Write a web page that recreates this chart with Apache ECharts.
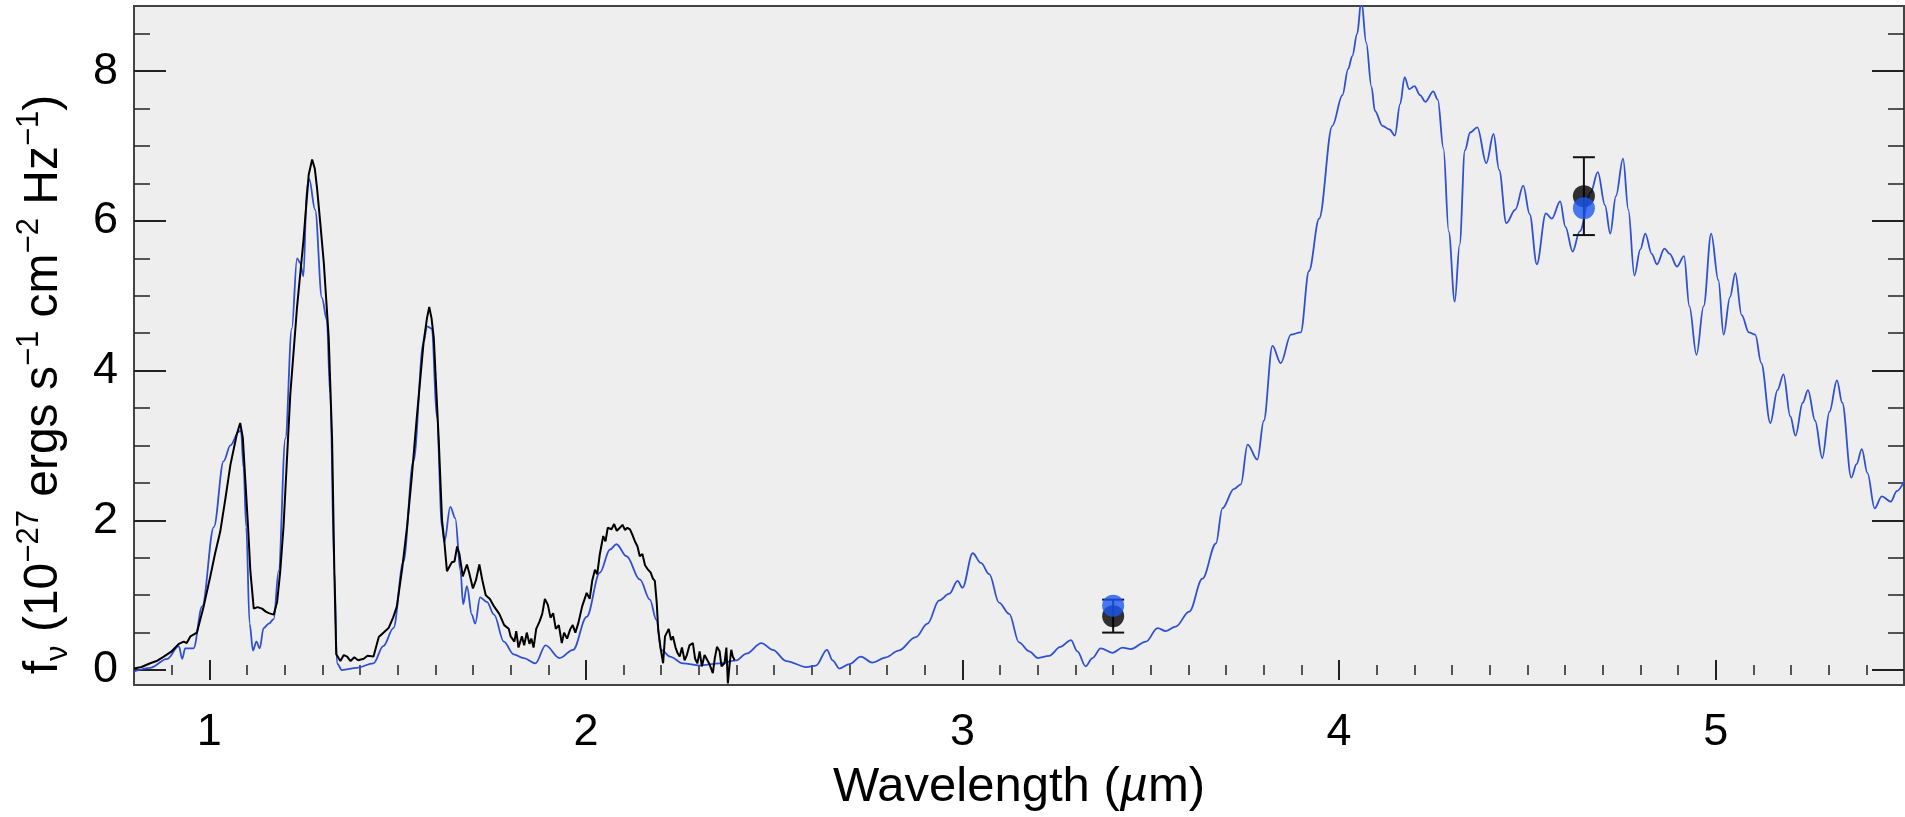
<!DOCTYPE html>
<html>
<head>
<meta charset="utf-8">
<script src="https://cdn.jsdelivr.net/npm/echarts@6/dist/echarts.min.js"></script>
<style>
html, body { margin: 0; padding: 0; background: #fff; }
#chart { width: 1905px; height: 817px; }
</style>
</head>
<body>
<div id="chart"></div>
<script>
// model spectrum (blue), [wavelength um, flux]
const modelSpec = [
  [0.80,-0.02],[0.843,0.03],[0.888,0.15],[0.919,0.32],[0.928,0.15],[0.936,0.29],[0.958,0.29],[0.981,0.85],
  [1.012,1.91],[1.038,2.79],[1.056,3.0],[1.078,3.18],[1.084,3.2],[1.091,2.7],[1.098,1.91],[1.107,0.62],
  [1.116,0.26],[1.125,0.38],[1.134,0.29],[1.144,0.56],[1.158,0.62],[1.171,0.68],[1.184,1.32],[1.202,3.09],
  [1.219,4.56],[1.233,5.5],[1.241,5.44],[1.25,5.26],[1.259,6.44],[1.265,6.56],[1.281,6.15],[1.299,4.97],
  [1.312,4.68],[1.321,3.68],[1.332,1.32],[1.339,0.09],[1.352,0.0],[1.392,0.03],[1.436,0.09],[1.462,0.32],
  [1.489,0.56],[1.515,1.44],[1.542,2.79],[1.569,4.38],[1.578,4.59],[1.591,4.56],[1.604,3.38],[1.618,1.91],
  [1.624,1.71],[1.64,2.18],[1.653,2.03],[1.667,1.32],[1.674,0.88],[1.684,1.12],[1.697,0.74],[1.706,0.62],
  [1.719,0.97],[1.737,0.91],[1.756,0.74],[1.782,0.38],[1.808,0.21],[1.835,0.16],[1.866,0.09],[1.893,0.33],
  [1.93,0.16],[1.966,0.27],[2.002,0.71],[2.037,1.3],[2.064,1.61],[2.081,1.68],[2.108,1.52],[2.143,1.21],
  [2.17,0.94],[2.187,0.67],[2.2,0.27],[2.223,0.18],[2.258,0.09],[2.302,0.06],[2.355,0.09],[2.40,0.13],
  [2.426,0.22],[2.466,0.36],[2.496,0.27],[2.532,0.12],[2.585,0.04],[2.611,0.06],[2.64,0.27],[2.655,0.13],
  [2.673,0.02],[2.70,0.08],[2.73,0.18],[2.76,0.1],[2.797,0.17],[2.83,0.26],[2.876,0.44],[2.907,0.62],
  [2.938,0.93],[2.965,1.02],[2.987,1.19],[3.0,1.10],[3.027,1.56],[3.049,1.43],[3.071,1.28],[3.097,0.9],
  [3.124,0.75],[3.15,0.37],[3.177,0.25],[3.2,0.16],[3.23,0.19],[3.26,0.31],[3.288,0.4],[3.305,0.25],
  [3.327,0.05],[3.345,0.16],[3.367,0.29],[3.398,0.23],[3.425,0.3],[3.447,0.28],[3.487,0.38],[3.518,0.56],
  [3.54,0.52],[3.566,0.58],[3.602,0.78],[3.637,1.22],[3.673,1.69],[3.69,2.16],[3.721,2.42],[3.739,2.48],
  [3.757,3.01],[3.783,2.81],[3.80,3.33],[3.823,4.33],[3.845,4.1],[3.872,4.48],[3.898,4.51],[3.92,5.33],
  [3.947,6.03],[3.982,7.27],[4.009,7.68],[4.024,8.03],[4.035,8.2],[4.048,8.5],[4.059,8.95],[4.072,8.38],
  [4.086,7.79],[4.095,7.47],[4.115,7.27],[4.134,7.22],[4.148,7.14],[4.162,7.56],[4.174,7.92],[4.186,7.76],
  [4.2,7.8],[4.215,7.68],[4.229,7.59],[4.25,7.73],[4.262,7.62],[4.277,6.97],[4.291,5.86],[4.307,4.92],
  [4.32,5.68],[4.334,6.94],[4.348,7.18],[4.367,7.25],[4.391,6.77],[4.41,7.16],[4.425,6.68],[4.444,5.97],
  [4.468,6.15],[4.489,6.47],[4.506,6.09],[4.525,5.42],[4.549,6.1],[4.565,6.03],[4.587,6.26],[4.601,5.92],
  [4.62,5.59],[4.639,5.86],[4.668,6.38],[4.687,6.65],[4.706,6.21],[4.72,5.83],[4.735,6.33],[4.754,6.83],
  [4.768,6.15],[4.784,5.27],[4.80,5.62],[4.813,5.83],[4.83,5.56],[4.844,5.42],[4.864,5.63],[4.878,5.56],
  [4.897,5.39],[4.916,5.53],[4.93,4.86],[4.949,4.21],[4.968,4.86],[4.988,5.83],[5.007,5.21],[5.021,4.48],
  [5.038,4.98],[5.052,5.3],[5.069,4.74],[5.088,4.51],[5.105,4.48],[5.121,4.1],[5.145,3.3],[5.164,3.74],
  [5.18,3.95],[5.198,3.39],[5.212,3.13],[5.231,3.57],[5.245,3.74],[5.264,3.33],[5.283,2.83],[5.302,3.45],
  [5.322,3.87],[5.336,3.57],[5.36,2.57],[5.374,2.75],[5.388,2.95],[5.403,2.63],[5.422,2.16],[5.441,2.32],
  [5.465,2.25],[5.481,2.39],[5.50,2.52]
]

// observed spectrum (black)
const obsSpec = [
  [0.80,0.02],[0.82,0.04],[0.843,0.09],[0.86,0.12],[0.879,0.18],[0.90,0.25],[0.919,0.35],[0.932,0.38],
  [0.94,0.36],[0.95,0.45],[0.967,0.5],[0.985,0.85],[1.003,1.26],[1.015,1.55],[1.029,1.85],[1.043,2.3],
  [1.056,2.74],[1.073,3.15],[1.082,3.3],[1.089,3.1],[1.096,2.5],[1.103,1.9],[1.109,1.32],[1.118,0.82],
  [1.128,0.84],[1.14,0.82],[1.15,0.78],[1.158,0.76],[1.171,0.74],[1.18,0.91],[1.188,1.3],[1.197,1.91],
  [1.206,2.8],[1.215,3.68],[1.233,4.85],[1.25,5.74],[1.264,6.62],[1.273,6.82],[1.28,6.7],[1.286,6.44],
  [1.295,5.95],[1.304,5.44],[1.317,4.44],[1.326,3.09],[1.332,1.32],[1.337,0.21],[1.348,0.12],[1.357,0.2],
  [1.366,0.18],[1.375,0.12],[1.385,0.17],[1.395,0.13],[1.41,0.15],[1.42,0.19],[1.436,0.18],[1.45,0.44],
  [1.463,0.5],[1.476,0.56],[1.488,0.7],[1.498,0.85],[1.512,1.35],[1.525,1.91],[1.538,2.6],[1.551,3.38],
  [1.569,4.38],[1.578,4.7],[1.584,4.85],[1.59,4.7],[1.596,4.44],[1.609,3.09],[1.618,2.0],[1.624,1.72],
  [1.631,1.32],[1.644,1.44],[1.651,1.45],[1.658,1.65],[1.664,1.55],[1.673,1.25],[1.684,1.41],[1.69,1.3],
  [1.70,1.09],[1.708,1.2],[1.717,1.41],[1.725,1.2],[1.734,1.0],[1.745,0.95],[1.756,0.85],[1.77,0.75],
  [1.783,0.6],[1.795,0.55],[1.80,0.45],[1.81,0.38],[1.815,0.52],[1.821,0.3],[1.83,0.45],[1.836,0.33],
  [1.843,0.5],[1.85,0.35],[1.855,0.42],[1.861,0.3],[1.868,0.55],[1.877,0.65],[1.884,0.75],[1.891,0.95],
  [1.899,0.87],[1.906,0.7],[1.913,0.76],[1.92,0.55],[1.928,0.6],[1.936,0.36],[1.942,0.5],[1.95,0.42],
  [1.958,0.54],[1.965,0.6],[1.972,0.5],[1.98,0.63],[1.99,0.85],[2.002,1.03],[2.01,0.95],[2.017,1.2],
  [2.024,1.34],[2.03,1.28],[2.037,1.55],[2.046,1.79],[2.052,1.72],[2.058,1.9],[2.068,1.88],[2.075,1.95],
  [2.082,1.86],[2.09,1.9],[2.097,1.94],[2.104,1.87],[2.11,1.9],[2.117,1.88],[2.124,1.8],[2.13,1.72],
  [2.137,1.65],[2.143,1.52],[2.15,1.55],[2.157,1.4],[2.165,1.34],[2.172,1.3],[2.178,1.22],[2.183,1.19],
  [2.188,0.9],[2.192,0.54],[2.198,0.3],[2.205,0.09],[2.21,0.45],[2.214,0.49],[2.22,0.55],[2.226,0.4],
  [2.231,0.45],[2.238,0.3],[2.244,0.22],[2.249,0.18],[2.255,0.3],[2.262,0.13],[2.268,0.2],[2.275,0.33],
  [2.284,0.36],[2.29,0.15],[2.296,0.09],[2.302,0.25],[2.308,0.05],[2.315,0.2],[2.32,0.18],[2.328,0.08],
  [2.337,-0.04],[2.342,0.15],[2.348,0.31],[2.355,0.25],[2.36,0.05],[2.368,0.09],[2.373,0.3],[2.377,-0.18],
  [2.382,0.1],[2.386,0.27],[2.39,0.18],[2.395,0.13]
]

// photometry points
const photWave = [3.40, 4.65]
const photObs = [0.72, 6.33]
const photErr = [0.22, 0.52]
const photModel = [0.86, 6.17]

const xMajor = [1, 2, 3, 4, 5]
const yMajor = [0, 2, 4, 6, 8]
const xMinor = []
for (let v = 9; v <= 54; v++) if (v % 10) xMinor.push(v / 10)
const yMinor = [0.5, 1, 1.5, 2.5, 3, 3.5, 4.5, 5, 5.5, 6.5, 7, 7.5, 8.5]

const FONT = '"Liberation Sans", Arial, Helvetica, sans-serif'
const TICK = '#222'

const xBase = {type: 'value', min: 0.8, max: 5.5, splitLine: {show: false}, axisLine: {show: false}}
const yBase = {type: 'value', min: -0.2, max: 8.87, splitLine: {show: false}, axisLine: {show: false}}
const noLabel = {show: false}
const tick = (len, values, w) => ({show: true, inside: true, length: len, customValues: values, lineStyle: {color: TICK, width: w}})

const option = {
  backgroundColor: '#ffffff',
  animation: false,
  grid: {
    left: 134, right: 1, top: 6, bottom: 130,
    show: true, backgroundColor: '#eeeeee', borderColor: '#444', borderWidth: 2
  },
  xAxis: [
    {
      ...xBase, position: 'bottom',
      axisTick: tick(10, xMajor, 2),
      axisLabel: {customValues: xMajor, margin: 25, fontSize: 45, color: '#000', fontFamily: FONT},
      name: '{t|Wavelength (}{i|µ}{t|m)}',
      nameLocation: 'middle',
      nameGap: 78,
      nameTextStyle: {
        rich: {
          t: {fontSize: 49, color: '#000', fontFamily: FONT},
          i: {fontSize: 49, color: '#000', fontFamily: FONT, fontStyle: 'italic'}
        }
      }
    },
    {...xBase, position: 'bottom', axisTick: tick(5, xMinor, 1.5), axisLabel: noLabel},
    {...xBase, position: 'top', axisTick: tick(10, xMajor, 2), axisLabel: noLabel},
    {...xBase, position: 'top', axisTick: tick(5, xMinor, 1.5), axisLabel: noLabel}
  ],
  yAxis: [
    {
      ...yBase, position: 'left',
      axisTick: tick(32, yMajor, 2),
      axisLabel: {customValues: yMajor, margin: 16, fontSize: 45, color: '#000', fontFamily: FONT},
      name: '{t|f}{sub|ν}{t| (10}{sup|−27}{t| ergs s}{sup|−1}{t| cm}{sup|−2}{t| Hz}{sup|−1}{t|)}',
      nameLocation: 'middle',
      nameRotate: 90,
      nameGap: 60,
      nameTextStyle: {
        padding: [0, 78, 0, 0],
        rich: {
          t: {fontSize: 48, lineHeight: 60, color: '#000', fontFamily: FONT},
          sup: {fontSize: 31, lineHeight: 31, color: '#000', fontFamily: FONT, verticalAlign: 'top'},
          sub: {fontSize: 31, lineHeight: 31, color: '#000', fontFamily: FONT, verticalAlign: 'bottom'}
        }
      }
    },
    {...yBase, position: 'left', axisTick: tick(16, yMinor, 1.5), axisLabel: noLabel},
    {...yBase, position: 'right', axisTick: tick(32, yMajor, 2), axisLabel: noLabel},
    {...yBase, position: 'right', axisTick: tick(16, yMinor, 1.5), axisLabel: noLabel}
  ],
  series: [
    {
      type: 'line',
      data: modelSpec,
      showSymbol: false,
      smooth: 0.35,
      smoothMonotone: 'x',
      lineStyle: {color: '#2f50d2', width: 1.8},
      z: 2
    },
    {
      type: 'line',
      data: obsSpec,
      showSymbol: false,
      lineStyle: {color: '#000', width: 2},
      z: 3
    },
    {
      type: 'custom',
      data: photWave.map((w, i) => [w, photObs[i] - photErr[i], photObs[i] + photErr[i]]),
      encode: {x: 0, y: [1, 2]},
      z: 4,
      renderItem: (params, api) => {
        const lo = api.coord([api.value(0), api.value(1)])
        const hi = api.coord([api.value(0), api.value(2)])
        const cap = 11
        const st = {stroke: '#111', lineWidth: 2}
        return {
          type: 'group',
          children: [
            {type: 'line', shape: {x1: lo[0], y1: lo[1], x2: hi[0], y2: hi[1]}, style: st},
            {type: 'line', shape: {x1: lo[0] - cap, y1: lo[1], x2: lo[0] + cap, y2: lo[1]}, style: st},
            {type: 'line', shape: {x1: hi[0] - cap, y1: hi[1], x2: hi[0] + cap, y2: hi[1]}, style: st}
          ]
        }
      }
    },
    {
      type: 'scatter',
      data: photWave.map((w, i) => [w, photObs[i]]),
      symbolSize: 22,
      itemStyle: {color: '#000'},
      z: 5
    },
    {
      type: 'scatter',
      data: photWave.map((w, i) => [w, photModel[i]]),
      symbolSize: 22,
      itemStyle: {color: '#1d58f2'},
      z: 6
    }
  ]
}

const chart = echarts.init(document.getElementById('chart'))
chart.setOption(option)
</script>
</body>
</html>
